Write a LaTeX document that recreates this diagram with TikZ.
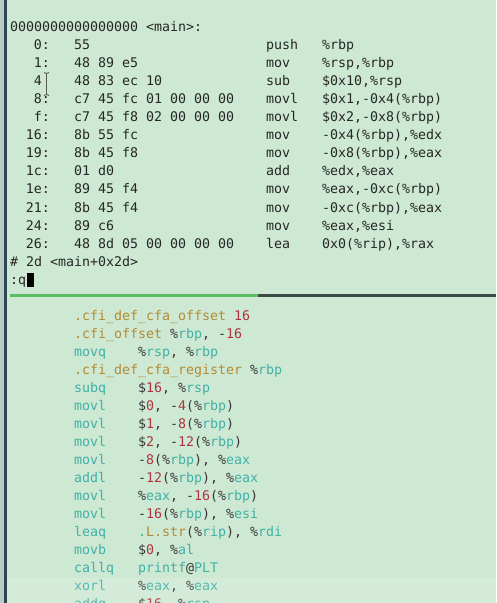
\documentclass[tikz,border=0pt]{standalone}
\usepackage{fontspec}
\setmonofont{DejaVu Sans Mono}
\definecolor{bg}{HTML}{CEE9D3}
\definecolor{dk}{HTML}{262626}
\definecolor{pk}{HTML}{353535}
\definecolor{tl}{HTML}{40B0A8}
\definecolor{rd}{HTML}{B0323C}
\definecolor{gd}{HTML}{B58A32}
\definecolor{sepgreen}{HTML}{5CBC62}
\definecolor{sepdark}{HTML}{3C4A46}
\definecolor{barlight}{HTML}{B9CCC4}
\definecolor{bardark}{HTML}{2C4654}
\newcommand\Tl[1]{\textcolor{tl}{#1}}
\newcommand\Nm[1]{\textcolor{rd}{#1}}
\newcommand\Gd[1]{\textcolor{gd}{#1}}
\newcommand\Pk[1]{\textcolor{pk}{#1}}
\newcommand\Rg[1]{\textcolor{pk}{\%}\textcolor{tl}{#1}}
\newcommand\TopRow[5]{%
  \node[tt,anchor=base east] (ta#1) at (50,{31+18.1*#1}) {#2};
  \node[tt] (tb#1) at (74,{31+18.1*#1}) {#3};
  \node[tt] (tm#1) at (266,{31+18.1*#1}) {#4};
  \node[tt] (to#1) at (322,{31+18.1*#1}) {#5};}
\newcommand\BotRow[3]{%
  \node[tt] (bm#1) at (74,{320+18*#1}) {#2};
  \node[tt] (bo#1) at (138,{320+18*#1}) {#3};}
\begin{document}
\begin{tikzpicture}[x=1pt,y=-1pt,
  tt/.style={inner sep=0pt,outer sep=0pt,anchor=base west,
    font=\fontsize{13.3}{16}\selectfont\ttfamily,text=dk}]
\useasboundingbox (0,0) rectangle (496,603);
\fill[bg] (0,0) rectangle (496,603);
\fill[barlight] (0,0) rectangle (3.5,603);
\fill[bardark] (3.5,0) rectangle (6.5,603);
% top: objdump output
\node[tt] (hdr) at (10,31) {0000000000000000 <main>:};
\TopRow{1}{0:}{55}{push}{\%rbp}
\TopRow{2}{1:}{48 89 e5}{mov}{\%rsp,\%rbp}
\TopRow{3}{4\phantom{:}}{48 83 ec 10}{sub}{\$0x10,\%rsp}
\TopRow{4}{8:}{c7 45 fc 01 00 00 00}{movl}{\$0x1,-0x4(\%rbp)}
\TopRow{5}{f:}{c7 45 f8 02 00 00 00}{movl}{\$0x2,-0x8(\%rbp)}
\TopRow{6}{16:}{8b 55 fc}{mov}{-0x4(\%rbp),\%edx}
\TopRow{7}{19:}{8b 45 f8}{mov}{-0x8(\%rbp),\%eax}
\TopRow{8}{1c:}{01 d0}{add}{\%edx,\%eax}
\TopRow{9}{1e:}{89 45 f4}{mov}{\%eax,-0xc(\%rbp)}
\TopRow{10}{21:}{8b 45 f4}{mov}{-0xc(\%rbp),\%eax}
\TopRow{11}{24:}{89 c6}{mov}{\%eax,\%esi}
\TopRow{12}{26:}{48 8d 05 00 00 00 00}{lea}{0x0(\%rip),\%rax}
\node[tt] (cmt) at (10,{31+18.1*13}) {\# 2d <main+0x2d>};
\node[tt] (cmd) at (10,{31+18.1*14}) {:q};
\fill[black] (26.7,272.7) rectangle (34,286.7);
% mouse I-beam
\draw[black!65,line width=0.9pt] (46.5,73) -- (46.5,95)
  (44,72.5) -- (46.5,73.5) -- (49,72.5)
  (44,95.5) -- (46.5,94.5) -- (49,95.5);
% separator
\fill[sepgreen] (10,294.3) rectangle (258.3,296.5);
\fill[sepdark] (258.3,294.3) rectangle (496,296.5);
% bottom: assembly source
\node[tt] (d0) at (74,320) {\Gd{.cfi\_def\_cfa\_offset} \Nm{16}};
\node[tt] (d1) at (74,338) {\Gd{.cfi\_offset} \Rg{rbp}\Pk{,} \Pk{-}\Nm{16}};
\BotRow{2}{\Tl{movq}}{\Rg{rsp}\Pk{,} \Rg{rbp}}
\node[tt] (d3) at (74,374) {\Gd{.cfi\_def\_cfa\_register} \Rg{rbp}};
\BotRow{4}{\Tl{subq}}{\Pk{\$}\Nm{16}\Pk{,} \Rg{rsp}}
\BotRow{5}{\Tl{movl}}{\Pk{\$}\Nm{0}\Pk{,} \Pk{-}\Nm{4}\Pk{(}\Rg{rbp}\Pk{)}}
\BotRow{6}{\Tl{movl}}{\Pk{\$}\Nm{1}\Pk{,} \Pk{-}\Nm{8}\Pk{(}\Rg{rbp}\Pk{)}}
\BotRow{7}{\Tl{movl}}{\Pk{\$}\Nm{2}\Pk{,} \Pk{-}\Nm{12}\Pk{(}\Rg{rbp}\Pk{)}}
\BotRow{8}{\Tl{movl}}{\Pk{-}\Nm{8}\Pk{(}\Rg{rbp}\Pk{),} \Rg{eax}}
\BotRow{9}{\Tl{addl}}{\Pk{-}\Nm{12}\Pk{(}\Rg{rbp}\Pk{),} \Rg{eax}}
\BotRow{10}{\Tl{movl}}{\Rg{eax}\Pk{,} \Pk{-}\Nm{16}\Pk{(}\Rg{rbp}\Pk{)}}
\BotRow{11}{\Tl{movl}}{\Pk{-}\Nm{16}\Pk{(}\Rg{rbp}\Pk{),} \Rg{esi}}
\BotRow{12}{\Tl{leaq}}{\Tl{.}\Gd{L.str}\Pk{(}\Rg{rip}\Pk{),} \Rg{rdi}}
\BotRow{13}{\Tl{movb}}{\Pk{\$}\Nm{0}\Pk{,} \Rg{al}}
\BotRow{14}{\Tl{callq}}{\Tl{printf}\Pk{@}\Tl{PLT}}
\BotRow{15}{\Tl{xorl}}{\Rg{eax}\Pk{,} \Rg{eax}}
\BotRow{16}{\Tl{addq}}{\Pk{\$}\Nm{16}\Pk{,} \Rg{rsp}}
\fill[white,opacity=0.12] (6.5,578) rectangle (496,603);
\end{tikzpicture}
\end{document}
